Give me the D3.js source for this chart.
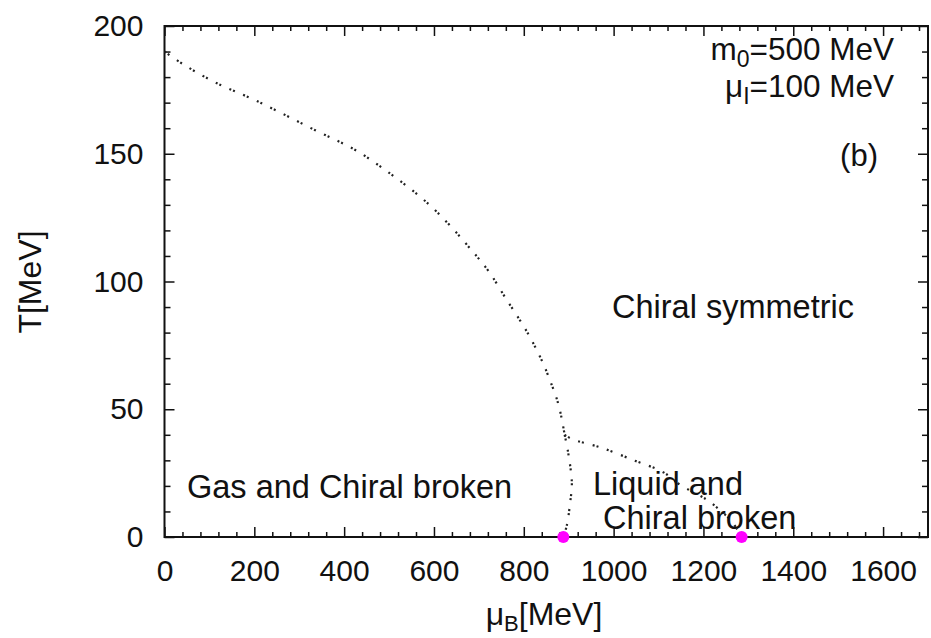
<!DOCTYPE html>
<html>
<head>
<meta charset="utf-8">
<script src="https://cdn.jsdelivr.net/npm/d3@7"></script>
<style>
  body { margin: 0; background: #fff; }
  svg { display: block; }
  text { font-family: "Liberation Sans", Arial, Helvetica, sans-serif; fill: #111; }
</style>
</head>
<body>
<svg id="chart" width="931" height="638"></svg>
<script>
// Phase boundaries in the (mu_B, T) plane, MeV
const chiralMu = [0, 16, 101, 205, 331, 435, 491, 606, 680, 725, 762, 784, 825, 855, 885, 891];
const chiralT  = [190, 188, 179, 170.7, 159.6, 150.4, 143.7, 127.3, 113, 103.2, 92.8, 86.9, 74.5, 62.8, 45.8, 40];

const gasLiquidMu = [891, 899, 907, 903, 896, 888];
const gasLiquidT  = [40, 32.8, 21, 13.2, 4.7, 0];

const liquidChiralMu = [891, 909, 970, 1044, 1111, 1148, 1208, 1260, 1275];
const liquidChiralT  = [40, 38.2, 35.1, 30.1, 25.3, 20.4, 14.5, 6.7, 3];

// Zero-temperature transition points
const pointMu = [888, 1285];
const pointT  = [0, 0];

// Tick values
const xMajorTicks = [0, 200, 400, 600, 800, 1000, 1200, 1400, 1600];
const yMajorTicks = [0, 50, 100, 150, 200];

const svg = d3.select("#chart");
const L = 164.5, R = 928, T = 26, B = 537;

const x = d3.scaleLinear().domain([0, 1700]).range([L, R]);
const y = d3.scaleLinear().domain([0, 200]).range([B, T]);

const xMinor = d3.range(0, 1701, 40).filter(v => v % 200 !== 0);
const yMinor = d3.range(0, 201, 10).filter(v => v % 50 !== 0);

const axisStyle = g => {
  g.select(".domain").remove();
  g.selectAll(".tick line").attr("stroke", "#111").attr("stroke-width", 1.5);
  g.selectAll("text").style("font-size", "30px").attr("fill", "#111");
};

// Bottom axis (ticks pointing inward)
svg.append("g").attr("transform", `translate(0,${B})`)
  .call(d3.axisBottom(x).tickValues(xMajorTicks).tickSize(-10).tickPadding(23).tickFormat(d3.format("d")))
  .call(axisStyle);
svg.append("g").attr("transform", `translate(0,${B})`)
  .call(d3.axisBottom(x).tickValues(xMinor).tickSize(-5).tickFormat(""))
  .call(axisStyle);
// Top mirror
svg.append("g").attr("transform", `translate(0,${T})`)
  .call(d3.axisTop(x).tickValues(xMajorTicks).tickSize(-10).tickFormat(""))
  .call(axisStyle);
svg.append("g").attr("transform", `translate(0,${T})`)
  .call(d3.axisTop(x).tickValues(xMinor).tickSize(-5).tickFormat(""))
  .call(axisStyle);
// Left axis
svg.append("g").attr("transform", `translate(${L},0)`)
  .call(d3.axisLeft(y).tickValues(yMajorTicks).tickSize(-10).tickPadding(21).tickFormat(d3.format("d")))
  .call(axisStyle);
svg.append("g").attr("transform", `translate(${L},0)`)
  .call(d3.axisLeft(y).tickValues(yMinor).tickSize(-6).tickFormat(""))
  .call(axisStyle);
// Right mirror
svg.append("g").attr("transform", `translate(${R},0)`)
  .call(d3.axisRight(y).tickValues(yMajorTicks).tickSize(-10).tickFormat(""))
  .call(axisStyle);
svg.append("g").attr("transform", `translate(${R},0)`)
  .call(d3.axisRight(y).tickValues(yMinor).tickSize(-6).tickFormat(""))
  .call(axisStyle);

// Frame
svg.append("rect")
  .attr("x", L).attr("y", T).attr("width", R - L).attr("height", B - T)
  .attr("fill", "none").attr("stroke", "#111").attr("stroke-width", 2);

// Boundary lines
const line = d3.line().x(d => x(d[0])).y(d => y(d[1]));
const drawBoundary = (mu, t, curve) => {
  svg.append("path")
    .datum(d3.zip(mu, t))
    .attr("d", line.curve(curve))
    .attr("fill", "none")
    .attr("stroke", "#222")
    .attr("stroke-width", 2.2)
    .attr("stroke-dasharray", "2 2 2 9");
};
drawBoundary(chiralMu, chiralT, d3.curveMonotoneX);
drawBoundary(gasLiquidMu, gasLiquidT, d3.curveCatmullRom);
drawBoundary(liquidChiralMu, liquidChiralT, d3.curveCatmullRom);

// Transition points on the T = 0 axis
svg.append("g").selectAll("circle")
  .data(d3.zip(pointMu, pointT))
  .join("circle")
  .attr("cx", d => x(d[0])).attr("cy", d => y(d[1]))
  .attr("r", 6).attr("fill", "#ff00ff");

// Axis titles
const xTitle = svg.append("text").attr("x", 544).attr("y", 625)
  .attr("text-anchor", "middle").style("font-size", "32px");
xTitle.append("tspan").text("μ");
xTitle.append("tspan").attr("dy", 6).style("font-size", "22px").text("B");
xTitle.append("tspan").attr("dy", -6).text("[MeV]");

svg.append("text")
  .attr("transform", "translate(41,282) rotate(-90)")
  .attr("text-anchor", "middle").style("font-size", "32px")
  .text("T[MeV]");

// Parameter labels
const p1 = svg.append("text").attr("x", 894).attr("y", 60)
  .attr("text-anchor", "end").style("font-size", "31.5px");
p1.append("tspan").text("m");
p1.append("tspan").attr("dy", 7).style("font-size", "23px").text("0");
p1.append("tspan").attr("dy", -7).text("=500 MeV");

const p2 = svg.append("text").attr("x", 894).attr("y", 97)
  .attr("text-anchor", "end").style("font-size", "31.5px");
p2.append("tspan").text("μ");
p2.append("tspan").attr("dy", 7).style("font-size", "23px").text("I");
p2.append("tspan").attr("dy", -7).text("=100 MeV");

svg.append("text").attr("x", 878).attr("y", 166)
  .attr("text-anchor", "end").style("font-size", "31px").text("(b)");

// Phase region labels
const region = (txt, xx, yy) => svg.append("text")
  .attr("x", xx).attr("y", yy).style("font-size", "32.5px").text(txt);
region("Chiral symmetric", 612, 318);
region("Gas and Chiral broken", 187, 498);
region("Liquid and", 593, 495);
region("Chiral broken", 603, 529);
</script>
</body>
</html>
